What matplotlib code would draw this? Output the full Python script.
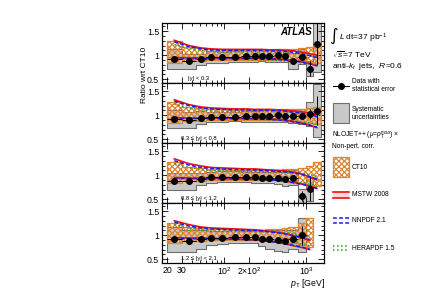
import matplotlib
matplotlib.use('Agg')
import matplotlib.pyplot as plt
import numpy as np
from matplotlib.patches import Rectangle
from matplotlib.ticker import FixedLocator, NullFormatter, MultipleLocator

plt.rcParams['font.family'] = ['Liberation Sans', 'DejaVu Sans']
plt.rcParams['mathtext.fontset'] = 'custom'
plt.rcParams['mathtext.rm'] = 'Liberation Sans'
plt.rcParams['mathtext.it'] = 'Liberation Sans:italic'
plt.rcParams['mathtext.bf'] = 'Liberation Sans:bold'
plt.rcParams['hatch.linewidth'] = 0.9

# pT bin edges [GeV]
edges = [20, 30, 45, 60, 80, 110, 160, 210, 260, 310, 400, 500, 600, 800, 1000, 1200, 1500]
ylabels = ['|y| < 0.3', '0.3 ≤ |y| < 0.8', '0.8 ≤ |y| < 1.2', '1.2 ≤ |y| < 2.1']

# data / CT10 ratio, statistical and systematic uncertainty
data1 = [0.92, 0.87, 0.91, 0.96, 0.955, 0.97, 0.985, 0.98, 0.99, 0.99, 0.995, 0.99, 0.875, 0.97, 0.72, 1.24]
stat1 = [0.01, 0.01, 0.01, 0.01, 0.01, 0.01, 0.01, 0.01, 0.01, 0.015, 0.02, 0.02, 0.03, 0.06, 0.15, 0.45]
sys1 = [0.21, 0.15, 0.12, 0.12, 0.11, 0.11, 0.12, 0.12, 0.12, 0.13, 0.13, 0.13, 0.16, 0.15, 0.16, 0.6]
data2 = [0.92, 0.9, 0.95, 0.96, 0.965, 0.97, 0.975, 0.975, 0.98, 0.99, 0.995, 0.99, 0.985, 0.975, 1.02, 1.09]
stat2 = [0.01, 0.01, 0.01, 0.01, 0.01, 0.01, 0.01, 0.01, 0.01, 0.01, 0.01, 0.015, 0.02, 0.05, 0.1, 0.3]
sys2 = [0.19, 0.17, 0.13, 0.1, 0.1, 0.1, 0.11, 0.11, 0.12, 0.13, 0.13, 0.14, 0.15, 0.16, 0.25, 0.55]
data3 = [0.87, 0.87, 0.92, 0.955, 0.97, 0.97, 0.96, 0.955, 0.95, 0.95, 0.94, 0.925, 0.945, 0.56, 0.71]
stat3 = [0.01, 0.01, 0.01, 0.01, 0.01, 0.01, 0.01, 0.01, 0.01, 0.01, 0.01, 0.02, 0.04, 0.1, 0.25]
sys3 = [0.17, 0.17, 0.12, 0.11, 0.11, 0.11, 0.11, 0.11, 0.11, 0.12, 0.13, 0.15, 0.16, 0.15, 0.25]
data4 = [0.91, 0.87, 0.91, 0.945, 0.95, 0.97, 0.965, 0.96, 0.93, 0.91, 0.89, 0.88, 0.91, 1.0]
stat4 = [0.01, 0.01, 0.01, 0.01, 0.01, 0.01, 0.01, 0.01, 0.01, 0.01, 0.015, 0.02, 0.05, 0.2]
sys4 = [0.27, 0.23, 0.2, 0.14, 0.14, 0.13, 0.13, 0.13, 0.16, 0.2, 0.22, 0.23, 0.2, 0.35]

# CT10 band (upper / lower edge)
ct_hi1 = [1.29, 1.17, 1.15, 1.13, 1.12, 1.11, 1.11, 1.11, 1.11, 1.11, 1.12, 1.12, 1.13, 1.14, 1.16, 1.19]
ct_lo1 = [0.83, 0.87, 0.88, 0.89, 0.9, 0.9, 0.9, 0.9, 0.9, 0.9, 0.9, 0.89, 0.88, 0.87, 0.85, 0.83]
ct_hi2 = [1.28, 1.17, 1.15, 1.13, 1.12, 1.11, 1.11, 1.1, 1.1, 1.1, 1.1, 1.11, 1.12, 1.13, 1.15, 1.18]
ct_lo2 = [0.84, 0.87, 0.88, 0.89, 0.9, 0.9, 0.9, 0.9, 0.9, 0.9, 0.89, 0.88, 0.87, 0.86, 0.84, 0.82]
ct_hi3 = [1.28, 1.18, 1.15, 1.13, 1.12, 1.11, 1.11, 1.11, 1.11, 1.11, 1.11, 1.12, 1.12, 1.14, 1.2, 1.28]
ct_lo3 = [0.84, 0.87, 0.88, 0.89, 0.9, 0.9, 0.9, 0.9, 0.9, 0.89, 0.89, 0.88, 0.86, 0.84, 0.8, 0.78]
ct_hi4 = [1.25, 1.17, 1.15, 1.13, 1.12, 1.11, 1.11, 1.11, 1.11, 1.12, 1.13, 1.14, 1.16, 1.25, 1.36]
ct_lo4 = [0.84, 0.87, 0.88, 0.89, 0.9, 0.9, 0.9, 0.9, 0.89, 0.88, 0.87, 0.86, 0.84, 0.8, 0.76]

# other PDFs / CT10, upper and lower edges
mstw_hi1 = [1.31, 1.2, 1.15, 1.13, 1.12, 1.12, 1.12, 1.12, 1.12, 1.11, 1.11, 1.1, 1.09, 1.06, 1.03, 1.0]
mstw_lo1 = [0.95, 0.945, 0.94, 0.94, 0.94, 0.94, 0.94, 0.94, 0.94, 0.93, 0.92, 0.91, 0.89, 0.86, 0.82, 0.78]
nnpdf_hi1 = [1.28, 1.18, 1.13, 1.11, 1.1, 1.1, 1.1, 1.1, 1.1, 1.09, 1.09, 1.08, 1.06, 1.03, 0.99, 0.95]
nnpdf_lo1 = [0.93, 0.93, 0.93, 0.93, 0.93, 0.93, 0.93, 0.93, 0.93, 0.92, 0.91, 0.9, 0.88, 0.85, 0.82, 0.78]
hera_hi1 = [1.22, 1.14, 1.1, 1.08, 1.07, 1.07, 1.07, 1.07, 1.07, 1.07, 1.06, 1.05, 1.04, 1.02, 0.99, 0.96]
hera_lo1 = [0.94, 0.93, 0.93, 0.93, 0.92, 0.92, 0.91, 0.91, 0.91, 0.9, 0.89, 0.88, 0.86, 0.84, 0.82, 0.79]

mstw_hi2 = [1.32, 1.22, 1.17, 1.15, 1.14, 1.13, 1.13, 1.12, 1.12, 1.12, 1.11, 1.1, 1.09, 1.07, 1.04, 1.01]
mstw_lo2 = [0.95, 0.94, 0.94, 0.94, 0.94, 0.94, 0.93, 0.93, 0.93, 0.92, 0.91, 0.9, 0.87, 0.83, 0.79, 0.74]
nnpdf_hi2 = [1.29, 1.2, 1.15, 1.13, 1.12, 1.11, 1.11, 1.1, 1.1, 1.1, 1.09, 1.08, 1.06, 1.04, 1.01, 0.97]
nnpdf_lo2 = [0.93, 0.93, 0.93, 0.93, 0.93, 0.93, 0.93, 0.92, 0.92, 0.91, 0.9, 0.89, 0.86, 0.83, 0.79, 0.75]
hera_hi2 = [1.23, 1.15, 1.11, 1.09, 1.08, 1.08, 1.08, 1.08, 1.08, 1.08, 1.08, 1.07, 1.06, 1.05, 1.03, 1.01]
hera_lo2 = [0.94, 0.93, 0.93, 0.93, 0.92, 0.92, 0.92, 0.91, 0.91, 0.91, 0.9, 0.89, 0.88, 0.86, 0.84, 0.81]

mstw_hi3 = [1.34, 1.24, 1.19, 1.16, 1.15, 1.14, 1.13, 1.13, 1.12, 1.11, 1.1, 1.09, 1.06, 1.02, 0.96, 0.9]
mstw_lo3 = [0.95, 0.94, 0.94, 0.94, 0.93, 0.93, 0.93, 0.92, 0.92, 0.91, 0.9, 0.88, 0.85, 0.81, 0.77, 0.72]
nnpdf_hi3 = [1.3, 1.21, 1.16, 1.14, 1.13, 1.12, 1.11, 1.11, 1.1, 1.09, 1.08, 1.07, 1.05, 1.01, 0.97, 0.92]
nnpdf_lo3 = [0.93, 0.93, 0.93, 0.93, 0.93, 0.92, 0.92, 0.91, 0.91, 0.9, 0.89, 0.87, 0.84, 0.81, 0.77, 0.73]
hera_hi3 = [1.24, 1.16, 1.12, 1.1, 1.09, 1.09, 1.08, 1.08, 1.08, 1.08, 1.07, 1.07, 1.06, 1.04, 1.01, 0.98]
hera_lo3 = [0.94, 0.93, 0.93, 0.92, 0.92, 0.92, 0.91, 0.91, 0.91, 0.9, 0.89, 0.88, 0.86, 0.84, 0.81, 0.78]

mstw_hi4 = [1.3, 1.22, 1.17, 1.15, 1.14, 1.13, 1.12, 1.11, 1.1, 1.08, 1.06, 1.03, 0.99, 0.94, 0.89]
mstw_lo4 = [0.95, 0.94, 0.94, 0.93, 0.93, 0.92, 0.91, 0.9, 0.89, 0.87, 0.85, 0.82, 0.78, 0.74, 0.7]
nnpdf_hi4 = [1.27, 1.19, 1.15, 1.13, 1.12, 1.11, 1.1, 1.1, 1.09, 1.07, 1.05, 1.03, 0.99, 0.95, 0.91]
nnpdf_lo4 = [0.93, 0.93, 0.93, 0.93, 0.92, 0.92, 0.91, 0.9, 0.89, 0.87, 0.85, 0.82, 0.79, 0.75, 0.71]
hera_hi4 = [1.22, 1.15, 1.11, 1.09, 1.08, 1.08, 1.08, 1.08, 1.07, 1.07, 1.06, 1.05, 1.03, 1.01, 0.98]
hera_lo4 = [0.94, 0.93, 0.93, 0.92, 0.92, 0.91, 0.91, 0.9, 0.9, 0.89, 0.88, 0.86, 0.84, 0.81, 0.78]

panels = [
    (data1, stat1, sys1, ct_hi1, ct_lo1, mstw_hi1, mstw_lo1, nnpdf_hi1, nnpdf_lo1, hera_hi1, hera_lo1),
    (data2, stat2, sys2, ct_hi2, ct_lo2, mstw_hi2, mstw_lo2, nnpdf_hi2, nnpdf_lo2, hera_hi2, hera_lo2),
    (data3, stat3, sys3, ct_hi3, ct_lo3, mstw_hi3, mstw_lo3, nnpdf_hi3, nnpdf_lo3, hera_hi3, hera_lo3),
    (data4, stat4, sys4, ct_hi4, ct_lo4, mstw_hi4, mstw_lo4, nnpdf_hi4, nnpdf_lo4, hera_hi4, hera_lo4),
]

C_CT = '#e0842f'
C_GRAY = '#c8c8c8'
C_GRAYE = '#6e6e6e'
C_RED = '#e8101a'
C_BLUE = '#1a1aff'
C_GREEN = '#21a521'
HATCH = 'xxxxxx'

W, H = 427, 302
fig = plt.figure(figsize=(W / 100, H / 100), dpi=100)

def step_arr(v):
    return np.append(v, v[-1])

for i, p in enumerate(panels):
    data, stat, sys, ct_hi, ct_lo, m_hi, m_lo, n_hi, n_lo, h_hi, h_lo = [np.array(a) for a in p]
    top = 23 + 60 * i
    ax = fig.add_axes([162 / W, 1 - (top + 60) / H, 162 / W, 60 / H])
    ax.set_xscale('log')

    nd = len(data)
    nc = len(ct_hi)
    e = np.array(edges, dtype=float)
    ed = e[:nd + 1]
    ec = e[:nc + 1]
    cd = np.sqrt(ed[:-1] * ed[1:])
    cc = np.sqrt(ec[:-1] * ec[1:])

    ax.fill_between(ed, step_arr(data - sys), step_arr(data + sys), step='post',
                    facecolor=C_GRAY, edgecolor=C_GRAYE, lw=0.8, zorder=1)
    ax.fill_between(ec, step_arr(ct_lo), step_arr(ct_hi), step='post',
                    facecolor='none', edgecolor=C_CT, hatch=HATCH, lw=0.9, zorder=2)

    ax.plot(cc, h_hi, ':', color=C_GREEN, lw=1.1, zorder=3)
    ax.plot(cc, h_lo, ':', color=C_GREEN, lw=1.1, zorder=3)
    ax.plot(cc, m_hi, '-', color=C_RED, lw=1.2, zorder=3)
    ax.plot(cc, m_lo, '-', color=C_RED, lw=1.2, zorder=3)
    ax.plot(cc, n_hi, '--', color=C_BLUE, lw=1.1, dashes=(2.5, 1.5), zorder=3)
    ax.plot(cc, n_lo, '--', color=C_BLUE, lw=1.1, dashes=(2.5, 1.5), zorder=3)

    ax.errorbar(cd, data, yerr=stat, xerr=[cd - ed[:-1], ed[1:] - cd], fmt='o', color='k',
                ms=4.0, elinewidth=0.7, capsize=0, zorder=4)

    ax.set_xlim(17.3, 1640)
    ax.set_ylim(0.42, 1.67)
    ax.set_yticks([0.5, 1, 1.5])
    ax.set_yticklabels(['0.5', '1', '1.5'])
    ax.yaxis.set_minor_locator(MultipleLocator(0.1))
    ax.xaxis.set_major_locator(FixedLocator([20, 30, 100, 200, 1000]))
    ax.xaxis.set_minor_locator(FixedLocator([40, 50, 60, 70, 80, 90, 300, 400, 500, 600, 700, 800, 900]))
    ax.xaxis.set_minor_formatter(NullFormatter())
    if i == 3:
        ax.set_xticklabels(['20', '30', r'$10^2$', r'$2{\times}10^2$', r'$10^3$'])
    else:
        ax.set_xticklabels([])
    ax.tick_params(which='both', direction='in', top=True, right=True, labelsize=6.3, width=0.6)
    ax.tick_params(which='major', length=4, pad=2)
    ax.tick_params(which='minor', length=2)
    for s in ax.spines.values():
        s.set_linewidth(0.9)
    ax.text(0.225, 0.08, ylabels[i], transform=ax.transAxes, ha='center', va='center', fontsize=4.2)

fig.text(312 / W, 1 - 32 / H, 'ATLAS', weight='bold', style='italic', fontsize=7, ha='right', va='center')
fig.text(145 / W, 1 - 75 / H, 'Ratio wrt CT10', rotation=90, ha='center', va='center', fontsize=6)
fig.text(325 / W, 1 - 284 / H, r'$p_{\rm T}$ [GeV]', ha='right', va='center', fontsize=6.3)

# right-hand side labels and legend
fig.text(329 / W, 1 - 36 / H, '∫', family='DejaVu Sans', fontsize=12, va='center', ha='left')
fig.text(339 / W, 1 - 38 / H, r'$L$ dt=37 pb$^{-1}$', fontsize=6, va='center')
fig.text(332 / W, 1 - 55 / H, r'$\sqrt{s}$=7 TeV', fontsize=6, va='center')
fig.text(332 / W, 1 - 66 / H, r'anti-$k_t$  jets,  $R$=0.6', fontsize=6, va='center')
fig.text(352 / W, 1 - 85.5 / H, 'Data with\nstatistical error', fontsize=4.8, va='center', linespacing=1.15)
fig.text(352 / W, 1 - 113.5 / H, 'Systematic\nuncertainties', fontsize=4.8, va='center', linespacing=1.15)
fig.text(332 / W, 1 - 136 / H, r'NLOJET++ ($\mu$=$p_{\rm T}^{\rm max}$) ×', fontsize=4.8, va='center')
fig.text(332 / W, 1 - 146 / H, 'Non-pert. corr.', fontsize=4.8, va='center')
fig.text(352 / W, 1 - 167 / H, 'CT10', fontsize=4.8, va='center')
fig.text(352 / W, 1 - 195 / H, 'MSTW 2008', fontsize=4.8, va='center')
fig.text(352 / W, 1 - 221 / H, 'NNPDF 2.1', fontsize=4.8, va='center')
fig.text(352 / W, 1 - 248 / H, 'HERAPDF 1.5', fontsize=4.8, va='center')

lax = fig.add_axes([0, 0, 1, 1])
lax.set_xlim(0, W)
lax.set_ylim(H, 0)
lax.axis('off')
lax.plot([333, 349], [86, 86], 'k-', lw=0.7)
lax.plot([341], [86], 'ko', ms=4.0)
lax.add_patch(Rectangle((333, 103), 16, 20, facecolor=C_GRAY, edgecolor=C_GRAYE, lw=0.8))
lax.add_patch(Rectangle((333, 157), 16, 20, facecolor='none', edgecolor=C_CT, hatch=HATCH, lw=0.9))
lax.add_patch(Rectangle((333, 192), 16, 6, facecolor='#fbd8d8', edgecolor='none'))
lax.plot([333, 349], [192, 192], '-', color=C_RED, lw=1.2)
lax.plot([333, 349], [198, 198], '-', color=C_RED, lw=1.2)
lax.plot([333, 349], [218, 218], '--', color=C_BLUE, lw=1.1, dashes=(2.5, 1.5))
lax.plot([333, 349], [223, 223], '--', color=C_BLUE, lw=1.1, dashes=(2.5, 1.5))
lax.plot([333, 349], [246, 246], ':', color=C_GREEN, lw=1.1)
lax.plot([333, 349], [250, 250], ':', color=C_GREEN, lw=1.1)

fig.savefig('out.png', dpi=100)
